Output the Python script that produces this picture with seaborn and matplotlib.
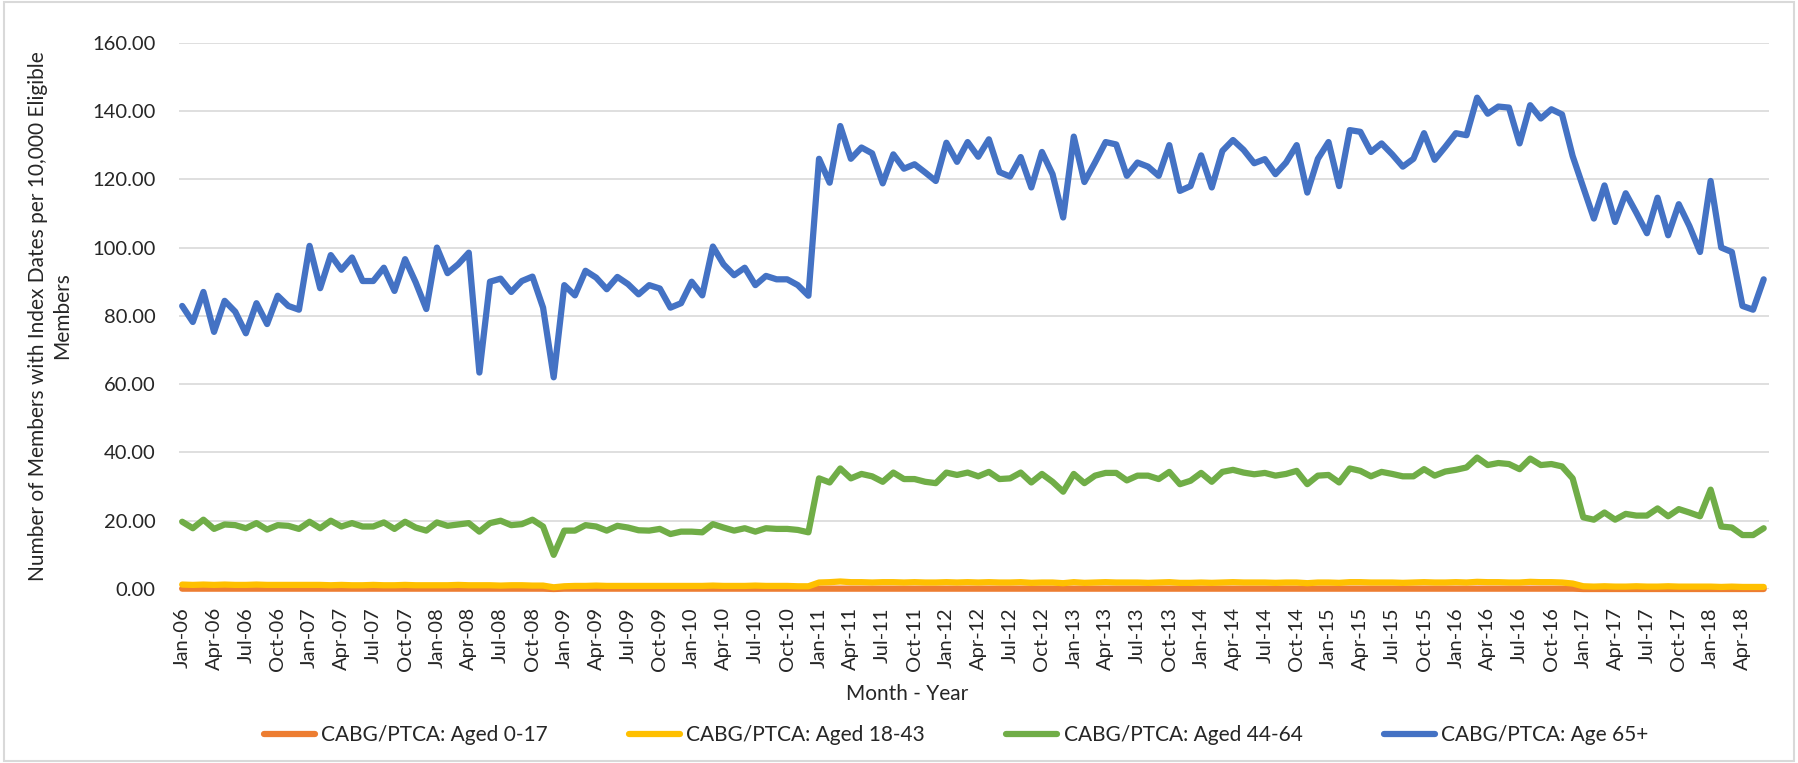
import pandas as pd
import numpy as np
import matplotlib
matplotlib.use("Agg")
import matplotlib.pyplot as plt
import seaborn as sns
from matplotlib.patches import Rectangle

# Monthly rates, Jan-06 .. Jun-18 (one row per year)
age_0_17 = [
    0.1, 0.1, 0.1, 0.1, 0.1, 0.1, 0.1, 0.1, 0.1, 0.1, 0.1, 0.1,
    0.1, 0.1, 0.1, 0.1, 0.1, 0.1, 0.1, 0.1, 0.1, 0.1, 0.1, 0.1,
    0.1, 0.1, 0.1, 0.1, 0.1, 0.1, 0.1, 0.1, 0.1, 0.1, 0.1, 0.0,
    0.1, 0.1, 0.1, 0.1, 0.1, 0.1, 0.1, 0.1, 0.1, 0.1, 0.1, 0.1,
    0.1, 0.1, 0.1, 0.1, 0.1, 0.1, 0.1, 0.1, 0.1, 0.1, 0.1, 0.1,
    0.1, 0.1, 0.1, 0.1, 0.1, 0.1, 0.1, 0.1, 0.1, 0.1, 0.1, 0.1,
    0.1, 0.1, 0.1, 0.1, 0.1, 0.1, 0.1, 0.1, 0.1, 0.1, 0.1, 0.1,
    0.1, 0.1, 0.1, 0.1, 0.1, 0.1, 0.1, 0.1, 0.1, 0.1, 0.1, 0.1,
    0.1, 0.1, 0.1, 0.1, 0.1, 0.1, 0.1, 0.1, 0.1, 0.1, 0.1, 0.1,
    0.1, 0.1, 0.1, 0.1, 0.1, 0.1, 0.1, 0.1, 0.1, 0.1, 0.1, 0.1,
    0.1, 0.1, 0.1, 0.1, 0.1, 0.1, 0.1, 0.1, 0.1, 0.1, 0.1, 0.1,
    0.0, 0.0, 0.0, 0.0, 0.0, 0.0, 0.0, 0.0, 0.0, 0.0, 0.0, 0.0,
    0.0, 0.0, 0.0, 0.0, 0.0, 0.0,
]
age_18_43 = [
    1.3, 1.2, 1.3, 1.2, 1.3, 1.2, 1.2, 1.3, 1.2, 1.2, 1.2, 1.2,
    1.2, 1.2, 1.1, 1.2, 1.1, 1.1, 1.2, 1.1, 1.1, 1.2, 1.1, 1.1,
    1.1, 1.1, 1.2, 1.1, 1.1, 1.1, 1.0, 1.1, 1.1, 1.0, 1.0, 0.5,
    0.8, 0.9, 0.9, 1.0, 0.9, 0.9, 0.9, 0.9, 0.9, 0.9, 0.9, 0.9,
    0.9, 0.9, 1.0, 0.9, 0.9, 0.9, 1.0, 0.9, 0.9, 0.9, 0.8, 0.8,
    1.9, 2.0, 2.2, 2.0, 2.0, 1.9, 2.0, 2.0, 1.9, 2.0, 1.9, 1.9,
    2.0, 1.9, 2.0, 1.9, 2.0, 1.9, 1.9, 2.0, 1.8, 1.9, 1.9, 1.7,
    2.0, 1.8, 1.9, 2.0, 1.9, 1.9, 1.9, 1.8, 1.9, 2.0, 1.8, 1.8,
    1.9, 1.8, 1.9, 2.0, 1.9, 1.9, 1.9, 1.8, 1.9, 1.9, 1.7, 1.9,
    1.9, 1.8, 2.0, 2.0, 1.9, 1.9, 1.9, 1.8, 1.9, 2.0, 1.9, 1.9,
    2.0, 1.9, 2.1, 2.0, 2.0, 1.9, 1.9, 2.1, 2.0, 2.0, 1.9, 1.6,
    0.8, 0.7, 0.8, 0.7, 0.7, 0.8, 0.7, 0.7, 0.8, 0.7, 0.7, 0.7,
    0.7, 0.6, 0.7, 0.6, 0.6, 0.6,
]
age_44_64 = [
    19.7, 17.8, 20.3, 17.6, 18.9, 18.7, 17.8, 19.3, 17.4, 18.7, 18.5, 17.6,
    19.7, 17.8, 20.0, 18.3, 19.3, 18.3, 18.3, 19.5, 17.6, 19.7, 18.0, 17.1,
    19.5, 18.5, 18.9, 19.3, 16.8, 19.3, 20.0, 18.7, 19.0, 20.3, 18.3, 10.0,
    17.1, 17.1, 18.7, 18.3, 17.1, 18.5, 18.0, 17.2, 17.1, 17.6, 16.1, 16.8,
    16.8, 16.6, 19.0, 18.0, 17.1, 17.8, 16.8, 17.8, 17.6, 17.6, 17.3, 16.6,
    32.4, 31.2, 35.3, 32.4, 33.7, 33.0, 31.4, 34.1, 32.2, 32.2, 31.4, 31.0,
    34.1, 33.4, 34.1, 33.0, 34.3, 32.2, 32.4, 34.1, 31.2, 33.7, 31.4, 28.5,
    33.7, 31.0, 33.2, 34.0, 34.0, 31.8, 33.2, 33.2, 32.2, 34.3, 30.7, 31.7,
    34.0, 31.4, 34.3, 34.9, 34.1, 33.6, 34.0, 33.2, 33.7, 34.6, 30.7, 33.2,
    33.4, 31.2, 35.3, 34.6, 33.0, 34.3, 33.7, 33.0, 33.0, 35.1, 33.2, 34.4,
    34.9, 35.6, 38.5, 36.3, 36.9, 36.6, 35.1, 38.2, 36.3, 36.6, 35.9, 32.4,
    21.0, 20.3, 22.4, 20.3, 22.0, 21.5, 21.5, 23.6, 21.3, 23.4, 22.4, 21.3,
    29.1, 18.3, 18.0, 15.8, 15.8, 17.8,
]
age_65_plus = [
    82.9, 78.2, 87.0, 75.3, 84.4, 81.2, 74.9, 83.7, 77.6, 85.9, 82.9, 81.8,
    100.5, 88.1, 97.8, 93.5, 97.1, 90.2, 90.2, 94.1, 87.3, 96.6, 89.8, 82.0,
    100.0, 92.5, 95.1, 98.5, 63.4, 90.0, 90.9, 87.0, 90.2, 91.5, 82.4, 62.0,
    89.0, 86.0, 93.2, 91.2, 87.8, 91.4, 89.3, 86.3, 89.0, 88.0, 82.4, 83.7,
    90.0, 86.0, 100.3, 95.1, 91.9, 94.1, 89.0, 91.7, 90.7, 90.7, 89.0, 85.9,
    126.0, 119.0, 135.6, 126.0, 129.3, 127.6, 118.8, 127.3, 123.1, 124.4, 122.0, 119.5,
    130.7, 125.1, 130.9, 126.6, 131.7, 122.1, 120.8, 126.5, 117.6, 128.0, 121.5, 108.8,
    132.5, 119.2, 124.9, 130.9, 130.2, 121.0, 124.9, 123.7, 121.0, 130.0, 116.6, 118.0,
    127.0, 117.6, 128.3, 131.5, 128.6, 124.7, 125.9, 121.5, 124.9, 130.0, 116.1, 126.0,
    130.9, 118.0, 134.4, 133.9, 128.0, 130.5, 127.3, 123.7, 126.0, 133.5, 125.7, 129.5,
    133.5, 132.9, 143.9, 139.2, 141.3, 141.0, 130.5, 141.7, 137.8, 140.5, 139.0, 126.8,
    117.6, 108.5, 118.2, 107.5, 115.9, 110.2, 104.2, 114.6, 103.6, 112.7, 106.3, 98.7,
    119.5, 100.0, 98.7, 82.9, 81.8, 90.7,
]

series_names = ["CABG/PTCA: Aged 0-17", "CABG/PTCA: Aged 18-43",
                "CABG/PTCA: Aged 44-64", "CABG/PTCA: Age 65+"]
colors = ["#ED7D31", "#FFC000", "#70AD47", "#4472C4"]

months = pd.date_range("2006-01-01", periods=len(age_65_plus), freq="MS")
month_labels = months.strftime("%b-%y")

frames = []
for name, vals in zip(series_names, [age_0_17, age_18_43, age_44_64, age_65_plus]):
    frames.append(pd.DataFrame({"pos": np.arange(len(vals)), "rate": vals, "series": name}))
df = pd.concat(frames, ignore_index=True)

sns.set_style("white")
plt.rcParams["font.family"] = ["Lato", "DejaVu Sans"]

fig = plt.figure(figsize=(17.98, 7.63), dpi=100)
ax = fig.add_axes([179 / 1798, 1 - 589 / 763, 1590 / 1798, 546.3 / 763])

sns.lineplot(data=df, x="pos", y="rate", hue="series", palette=colors,
             hue_order=series_names, linewidth=4.5, ax=ax, legend=False)
for line in ax.lines:
    line.set_clip_on(False)
    line.set_solid_joinstyle("round")

ax.set_xlim(-0.3, 149.5)
ax.set_ylim(0, 160)
ax.set_yticks(np.arange(0, 161, 20))
ax.set_yticklabels([f"{v:.2f}" for v in np.arange(0, 161, 20)], fontsize=14.5)
tick_pos = np.arange(0, len(months), 3)
ax.set_xticks(tick_pos)
ax.set_xticklabels(month_labels[tick_pos], rotation=90, fontsize=14.5)
ax.tick_params(axis="y", length=0, pad=17)
ax.tick_params(axis="x", length=0, pad=13)
ax.yaxis.grid(True, color="#D9D9D9", linewidth=1.2)
ax.set_axisbelow(True)
for s in ax.spines.values():
    s.set_visible(False)
ax.set_xlabel("")
ax.set_ylabel("")

fig.text(907 / 1798, 1 - 694 / 763, "Month - Year", ha="center", va="center", fontsize=15)
fig.text(50 / 1798, 1 - 316 / 763,
         "Number of Members with Index Dates per 10,000 Eligible\nMembers",
         rotation=90, ha="center", va="center", fontsize=15, linespacing=1.25)

handles = [plt.Line2D([], [], color=c, linewidth=4.5) for c in colors]
fig.legend(handles, series_names, loc="center", ncol=4, frameon=False,
           bbox_to_anchor=(956 / 1798, 1 - 735 / 763), fontsize=15,
           handlelength=2.45, handletextpad=0.3, columnspacing=3.9)

fig.patches.append(Rectangle((0.002, 0.003), 0.996, 0.994, transform=fig.transFigure,
                             fill=False, edgecolor="#D9D9D9", linewidth=1.5))

fig.savefig("out.png", dpi=100)
